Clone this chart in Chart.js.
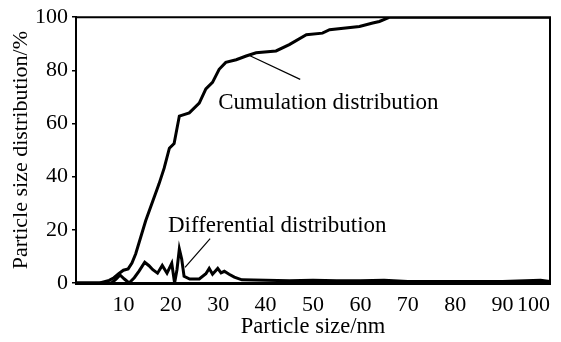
<!DOCTYPE html>
<html>
<head>
<meta charset="utf-8">
<script src="https://cdn.jsdelivr.net/npm/chart.js@4/dist/chart.umd.min.js"></script>
<style>
  html, body { margin: 0; padding: 0; background: #fff; }
  #wrap { width: 561px; height: 342px; }
</style>
</head>
<body>
<div id="wrap"><canvas id="chart" width="561" height="342"></canvas></div>
<script>
const FONT = '"Liberation Serif", "Times New Roman", serif'

// cumulative curve (nm, %)
const cumSize = [0, 5, 7, 8, 9, 10, 11, 11.8, 12.6, 14.7, 17.5, 18.6, 19.7, 20.7, 21.8, 23.9, 26, 27.4, 28.8, 30.2, 31.6, 33.8, 35.9, 38, 42.2, 45, 48.6, 52, 53.5, 59.8, 62.6, 64, 66.2, 70, 80, 90, 100]
const cumPct  = [0, 0, 1, 2, 3.5, 4.8, 5.3, 7.5, 11, 23.4, 37.2, 43.2, 50.7, 52.5, 62.8, 64, 67.7, 73, 75.5, 80.4, 83, 84, 85.4, 86.6, 87.3, 89.7, 93.4, 94, 95.3, 96.5, 97.8, 98.4, 100, 100, 100, 100, 100]

// differential curve
const diffSize = [0, 7.5, 8.5, 9.3, 10.2, 11.2, 12.3, 13.3, 14.5, 15.4, 16.2, 17.2, 18.2, 19.2, 20.2, 20.8, 21.3, 21.8, 22.3, 22.8, 24, 26, 27.4, 28.1, 28.8, 29.9, 30.6, 31.3, 32.3, 33.4, 35, 40, 45, 50, 55, 60, 65, 70, 80, 90, 98, 100]
const diffPct  = [0, 0, 1.5, 3, 1.5, 0, 2, 4.5, 7.8, 6.5, 5, 3.7, 6.6, 3.7, 7.4, 0, 5, 12.8, 9, 2.5, 1.5, 1.5, 3.5, 5.5, 3.3, 5.5, 3.8, 4.4, 3.3, 2.2, 1.2, 1, 0.8, 1, 0.8, 0.8, 1, 0.6, 0.6, 0.6, 1, 0.6]

const xTicks = [0, 10, 20, 30, 40, 50, 60, 70, 80, 90, 100]
const yTicks = [0, 20, 40, 60, 80, 100]

// callout labels: text anchor and leader line in data units
const notes = [
  { text: 'Cumulation distribution', x: 30, y: 65.5, line: [36.7, 85.5, 47.3, 76.6] },
  { text: 'Differential distribution', x: 19.4, y: 19.3, line: [28.3, 16.7, 23, 5.9] }
]

const toXY = (xs, ys) => xs.map((x, i) => ({ x, y: ys[i] }))

const framePlugin = {
  id: 'frame',
  afterDatasetsDraw(chart) {
    const { ctx, chartArea: a, scales: { x, y } } = chart
    ctx.save()
    ctx.strokeStyle = '#000'
    ctx.lineWidth = 2
    ctx.beginPath()
    ctx.moveTo(a.left, a.top)
    ctx.lineTo(a.right, a.top)
    ctx.lineTo(a.right, a.bottom)
    ctx.stroke()

    ctx.fillStyle = '#000'
    ctx.font = '23px ' + FONT
    ctx.textBaseline = 'alphabetic'
    ctx.lineWidth = 1.2
    notes.forEach(n => {
      ctx.fillText(n.text, x.getPixelForValue(n.x), y.getPixelForValue(n.y))
      const [x1, y1, x2, y2] = n.line
      ctx.beginPath()
      ctx.moveTo(x.getPixelForValue(x1), y.getPixelForValue(y1))
      ctx.lineTo(x.getPixelForValue(x2), y.getPixelForValue(y2))
      ctx.stroke()
    })
    ctx.restore()
  }
}

const lineStyle = { borderColor: '#000', borderWidth: 3, pointRadius: 0, tension: 0, fill: false }

new Chart(document.getElementById('chart').getContext('2d'), {
  type: 'line',
  data: {
    datasets: [
      { data: toXY(cumSize, cumPct), ...lineStyle },
      { data: toXY(diffSize, diffPct), ...lineStyle }
    ]
  },
  options: {
    responsive: false,
    animation: false,
    layout: { padding: { top: 14, right: 11, left: 0, bottom: 0 } },
    plugins: { legend: { display: false }, tooltip: { enabled: false } },
    scales: {
      x: {
        type: 'linear', min: 0, max: 100,
        afterBuildTicks: s => { s.ticks = xTicks.map(v => ({ value: v })) },
        afterFit: s => { s.height = 59 },
        grid: { display: false, drawTicks: false },
        border: { color: '#000', width: 3 },
        ticks: { color: '#000', font: { family: FONT, size: 22 }, padding: 9, maxRotation: 0, align: 'inner', callback: v => v === 0 ? '' : v },
        title: { display: true, text: 'Particle size/nm', color: '#000', font: { family: FONT, size: 22.5 }, padding: { top: 0, bottom: 1 } }
      },
      y: {
        min: 0, max: 100,
        afterBuildTicks: s => { s.ticks = yTicks.map(v => ({ value: v })) },
        afterFit: s => { s.width = 76 },
        grid: { drawOnChartArea: false, drawTicks: true, tickLength: 4, color: '#000', lineWidth: 1.5 },
        border: { color: '#000', width: 2 },
        ticks: { color: '#000', font: { family: FONT, size: 22 }, padding: 4 },
        title: { display: true, text: 'Particle size distribution/%', color: '#000', font: { family: FONT, size: 22 }, padding: { top: 8, bottom: 0 } }
      }
    }
  },
  plugins: [framePlugin]
})
</script>
</body>
</html>
